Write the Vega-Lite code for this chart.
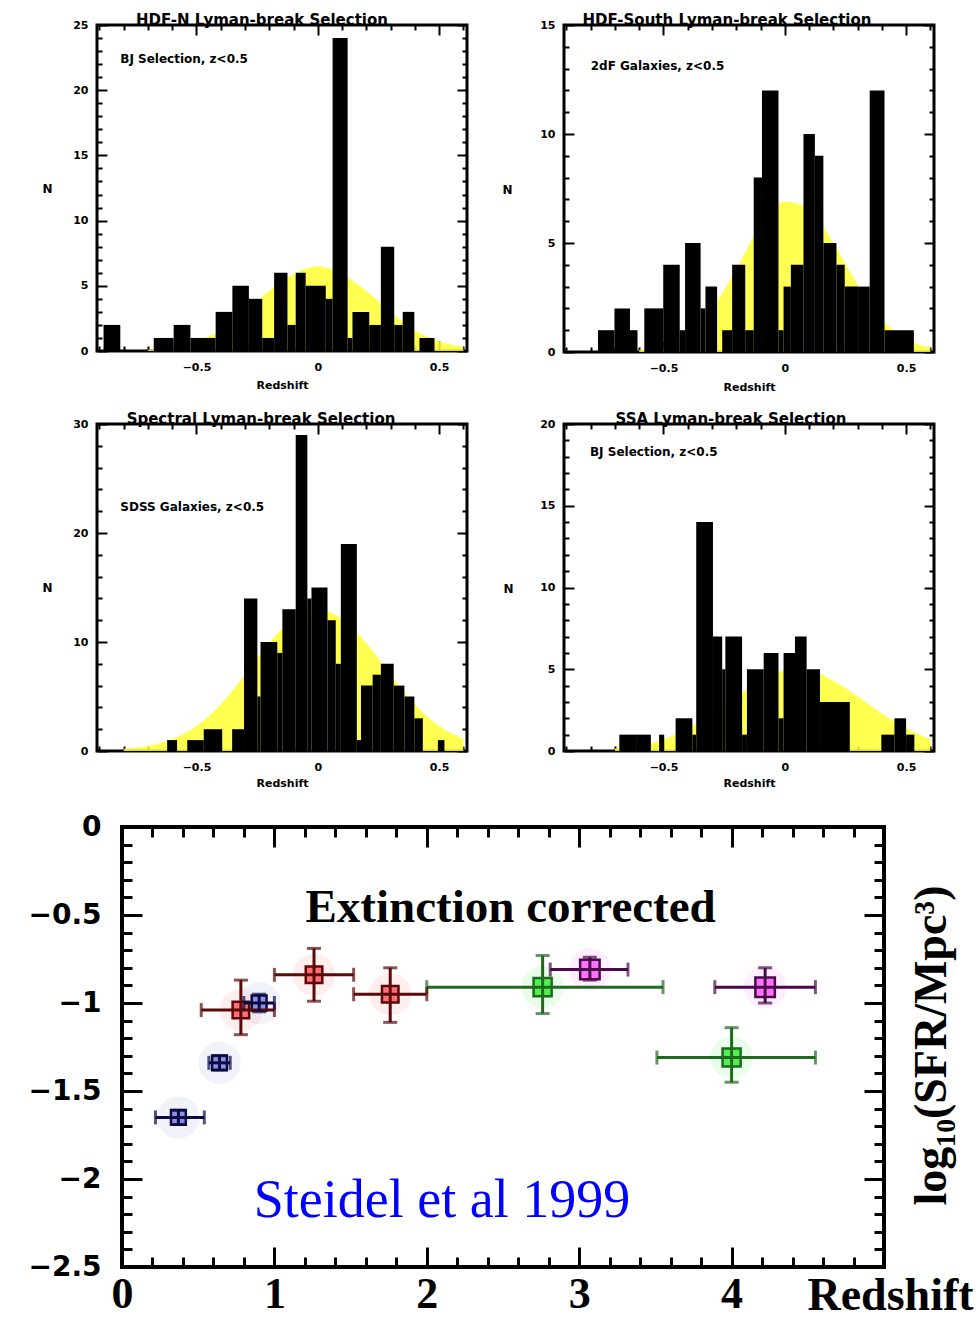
{
"$schema": "https://vega.github.io/schema/vega-lite/v6.json",
"background": "white",
"padding": {"left": 27, "top": 11, "right": 0, "bottom": 0},
"config": {"view": {"stroke": null}, "axis": {"labelFlush": false, "labelOverlap": false, "grid": false, "domain": false, "tickColor": "black", "labelColor": "black", "titleColor": "black"}},
"datasets": {
 "pts": [
  {"set":"red","z":0.78,"sfr":-1.04,"zlo":0.52,"zhi":1.0,"slo":-0.87,"shi":-1.18},
  {"set":"red","z":1.26,"sfr":-0.84,"zlo":1.0,"zhi":1.52,"slo":-0.69,"shi":-0.99},
  {"set":"red","z":1.76,"sfr":-0.95,"zlo":1.52,"zhi":2.0,"slo":-0.80,"shi":-1.11},
  {"set":"green","z":2.76,"sfr":-0.91,"zlo":2.0,"zhi":3.55,"slo":-0.73,"shi":-1.06},
  {"set":"green","z":4.0,"sfr":-1.31,"zlo":3.51,"zhi":4.55,"slo":-1.14,"shi":-1.45},
  {"set":"purple","z":3.07,"sfr":-0.81,"zlo":2.81,"zhi":3.32,"slo":-0.74,"shi":-0.87},
  {"set":"purple","z":4.22,"sfr":-0.91,"zlo":3.89,"zhi":4.55,"slo":-0.80,"shi":-1.0},
  {"set":"blue","z":0.37,"sfr":-1.65,"zlo":0.22,"zhi":0.54,"slo":-1.61,"shi":-1.69},
  {"set":"blue","z":0.64,"sfr":-1.34,"zlo":0.57,"zhi":0.71,"slo":-1.30,"shi":-1.38},
  {"set":"blue","z":0.9,"sfr":-1.0,"zlo":0.8,"zhi":1.0,"slo":-0.95,"shi":-1.05}
 ]
},
"spacing": 23,
"vconcat": [
  {"spacing": 16, "vconcat": [
  {"spacing": 30, "hconcat": [
   {"width": 370, "height": 326, "view": {"stroke": "black", "strokeWidth": 3},
    "title": {"text": "HDF-N Lyman-break Selection", "font": "DejaVu Sans", "fontSize": 15, "fontWeight": "bold", "color": "black", "offset": -16, "baseline": "middle", "dx": -20},
    "layer": [
     {"data": {"values": [{"x":-0.7,"n":0.1},{"x":-0.6,"n":0.3},{"x":-0.5,"n":0.75},{"x":-0.4,"n":1.6},{"x":-0.3,"n":3.0},{"x":-0.2,"n":4.6},{"x":-0.1,"n":5.9},{"x":0,"n":6.5},{"x":0.1,"n":5.9},{"x":0.2,"n":4.6},{"x":0.3,"n":3.0},{"x":0.4,"n":1.6},{"x":0.5,"n":0.75},{"x":0.6,"n":0.3}]},
      "mark": {"type": "area", "color": "#ffff33", "opacity": 0.85, "interpolate": "monotone"},
      "encoding": {
       "x": {"field": "x", "type": "quantitative", "scale": {"domain": [-0.91, 0.615], "nice": false, "zero": false},
             "axis": {"orient": "top", "values": [-0.9,-0.8,-0.7,-0.6,-0.5,-0.4,-0.3,-0.2,-0.1,0,0.1,0.2,0.3,0.4,0.5,0.6], "tickSize": {"condition": {"test": "abs(datum.value*2-round(datum.value*2))<0.001", "value": -10}, "value": -5}, "tickWidth": 2, "labels": false, "title": null}},
       "y": {"field": "n", "type": "quantitative", "scale": {"domain": [0, 25], "nice": false},
             "axis": {"orient": "right", "values": [0,1,2,3,4,5,6,7,8,9,10,11,12,13,14,15,16,17,18,19,20,21,22,23,24,25], "tickSize": {"condition": {"test": "datum.value%5==0", "value": -10}, "value": -5}, "tickWidth": 2, "labels": false, "title": null}}
      }},
     {"data": {"values": [{"x0":-0.883,"x1":-0.814,"n":2},{"x0":-0.676,"x1":-0.594,"n":1},{"x0":-0.594,"x1":-0.525,"n":2},{"x0":-0.525,"x1":-0.421,"n":1},{"x0":-0.421,"x1":-0.352,"n":3},{"x0":-0.352,"x1":-0.284,"n":5},{"x0":-0.284,"x1":-0.229,"n":4},{"x0":-0.229,"x1":-0.180,"n":1},{"x0":-0.180,"x1":-0.125,"n":6},{"x0":-0.125,"x1":-0.091,"n":2},{"x0":-0.091,"x1":-0.050,"n":6},{"x0":-0.050,"x1":0.033,"n":5},{"x0":0.033,"x1":0.061,"n":4},{"x0":0.061,"x1":0.123,"n":24},{"x0":0.123,"x1":0.143,"n":1},{"x0":0.143,"x1":0.212,"n":3},{"x0":0.212,"x1":0.260,"n":2},{"x0":0.260,"x1":0.315,"n":8},{"x0":0.315,"x1":0.350,"n":2},{"x0":0.350,"x1":0.398,"n":3},{"x0":0.419,"x1":0.481,"n":1}]},
      "mark": {"type": "rect", "color": "black"},
      "encoding": {
       "x": {"field": "x0", "type": "quantitative", "scale": {"domain": [-0.91, 0.615], "nice": false, "zero": false},
             "axis": {"orient": "bottom", "values": [-0.9,-0.8,-0.7,-0.6,-0.5,-0.4,-0.3,-0.2,-0.1,0,0.1,0.2,0.3,0.4,0.5,0.6], "tickSize": {"condition": {"test": "abs(datum.value*2-round(datum.value*2))<0.001", "value": -10}, "value": -5}, "tickWidth": 2, "labelExpr": "abs(datum.value*2-round(datum.value*2))<0.001 ? format(datum.value,'~g') : ''", "labelFont": "DejaVu Sans", "labelFontWeight": "bold", "labelFontSize": 11, "labelPadding": 20, "title": "Redshift", "titleFont": "DejaVu Sans", "titleFontWeight": "bold", "titleFontSize": 11, "titleY": 34, "titleBaseline": "middle"}},
       "x2": {"field": "x1"},
       "y": {"field": "n", "type": "quantitative", "scale": {"domain": [0, 25], "nice": false},
             "axis": {"orient": "left", "values": [0,1,2,3,4,5,6,7,8,9,10,11,12,13,14,15,16,17,18,19,20,21,22,23,24,25], "tickSize": {"condition": {"test": "datum.value%5==0", "value": -10}, "value": -5}, "tickWidth": 2, "labelExpr": "datum.value%5==0 ? datum.label : ''", "labelFont": "DejaVu Sans", "labelFontWeight": "bold", "labelFontSize": 11, "labelPadding": 19, "title": "N", "titleFont": "DejaVu Sans", "titleFontWeight": "bold", "titleFontSize": 12, "titleAngle": 0, "titleX": -50, "titleY": 163, "titleAlign": "center", "titleBaseline": "middle"}},
       "y2": {"datum": 0}
      }},
     {"data": {"values": [{"x": -0.814, "n": 22.4, "label": "BJ Selection, z<0.5"}]},
      "mark": {"type": "text", "align": "left", "baseline": "middle", "font": "DejaVu Sans", "fontWeight": "bold", "fontSize": 12, "color": "black"},
      "encoding": {"x": {"field": "x", "type": "quantitative", "scale": {"domain": [-0.91, 0.615], "nice": false, "zero": false}, "axis": null},
                   "y": {"field": "n", "type": "quantitative", "scale": {"domain": [0, 25], "nice": false}, "axis": null},
                   "text": {"field": "label"}}}
    ],
    "resolve": {"axis": {"x": "independent", "y": "independent"}}
   },
   {"width": 370, "height": 327, "view": {"stroke": "black", "strokeWidth": 3},
    "title": {"text": "HDF-South Lyman-break Selection", "font": "DejaVu Sans", "fontSize": 15, "fontWeight": "bold", "color": "black", "offset": -16, "baseline": "middle", "dx": -22},
    "layer": [
     {"data": {"values": [{"x":-0.6,"n":0.1},{"x":-0.5,"n":0.3},{"x":-0.4,"n":0.9},{"x":-0.3,"n":2.0},{"x":-0.2,"n":3.8},{"x":-0.1,"n":5.8},{"x":0,"n":6.9},{"x":0.1,"n":6.6},{"x":0.2,"n":5.0},{"x":0.3,"n":3.1},{"x":0.4,"n":1.5},{"x":0.5,"n":0.6},{"x":0.6,"n":0.2}]},
      "mark": {"type": "area", "color": "#ffff33", "opacity": 0.85, "interpolate": "monotone"},
      "encoding": {
       "x": {"field": "x", "type": "quantitative", "scale": {"domain": [-0.91, 0.615], "nice": false, "zero": false},
             "axis": {"orient": "top", "values": [-0.9,-0.8,-0.7,-0.6,-0.5,-0.4,-0.3,-0.2,-0.1,0,0.1,0.2,0.3,0.4,0.5,0.6], "tickSize": {"condition": {"test": "abs(datum.value*2-round(datum.value*2))<0.001", "value": -10}, "value": -5}, "tickWidth": 2, "labels": false, "title": null}},
       "y": {"field": "n", "type": "quantitative", "scale": {"domain": [0, 15], "nice": false},
             "axis": {"orient": "right", "values": [0,1,2,3,4,5,6,7,8,9,10,11,12,13,14,15], "tickSize": {"condition": {"test": "datum.value%5==0", "value": -10}, "value": -5}, "tickWidth": 2, "labels": false, "title": null}}
      }},
     {"data": {"values": [{"x0":-0.770,"x1":-0.702,"n":1},{"x0":-0.702,"x1":-0.638,"n":2},{"x0":-0.638,"x1":-0.607,"n":1},{"x0":-0.579,"x1":-0.501,"n":2},{"x0":-0.501,"x1":-0.433,"n":4},{"x0":-0.433,"x1":-0.411,"n":1},{"x0":-0.411,"x1":-0.347,"n":5},{"x0":-0.347,"x1":-0.327,"n":2},{"x0":-0.327,"x1":-0.279,"n":3},{"x0":-0.258,"x1":-0.217,"n":1},{"x0":-0.217,"x1":-0.163,"n":4},{"x0":-0.163,"x1":-0.128,"n":1},{"x0":-0.128,"x1":-0.094,"n":8},{"x0":-0.094,"x1":-0.026,"n":12},{"x0":-0.026,"x1":-0.005,"n":1},{"x0":-0.005,"x1":0.025,"n":3},{"x0":0.025,"x1":0.077,"n":4},{"x0":0.077,"x1":0.124,"n":10},{"x0":0.124,"x1":0.159,"n":9},{"x0":0.159,"x1":0.213,"n":5},{"x0":0.213,"x1":0.247,"n":4},{"x0":0.247,"x1":0.302,"n":3},{"x0":0.302,"x1":0.350,"n":3},{"x0":0.350,"x1":0.411,"n":12},{"x0":0.411,"x1":0.532,"n":1}]},
      "mark": {"type": "rect", "color": "black"},
      "encoding": {
       "x": {"field": "x0", "type": "quantitative", "scale": {"domain": [-0.91, 0.615], "nice": false, "zero": false},
             "axis": {"orient": "bottom", "values": [-0.9,-0.8,-0.7,-0.6,-0.5,-0.4,-0.3,-0.2,-0.1,0,0.1,0.2,0.3,0.4,0.5,0.6], "tickSize": {"condition": {"test": "abs(datum.value*2-round(datum.value*2))<0.001", "value": -10}, "value": -5}, "tickWidth": 2, "labelExpr": "abs(datum.value*2-round(datum.value*2))<0.001 ? format(datum.value,'~g') : ''", "labelFont": "DejaVu Sans", "labelFontWeight": "bold", "labelFontSize": 11, "labelPadding": 20, "title": "Redshift", "titleFont": "DejaVu Sans", "titleFontWeight": "bold", "titleFontSize": 11, "titleY": 35, "titleBaseline": "middle"}},
       "x2": {"field": "x1"},
       "y": {"field": "n", "type": "quantitative", "scale": {"domain": [0, 15], "nice": false},
             "axis": {"orient": "left", "values": [0,1,2,3,4,5,6,7,8,9,10,11,12,13,14,15], "tickSize": {"condition": {"test": "datum.value%5==0", "value": -10}, "value": -5}, "tickWidth": 2, "labelExpr": "datum.value%5==0 ? datum.label : ''", "labelFont": "DejaVu Sans", "labelFontWeight": "bold", "labelFontSize": 11, "labelPadding": 19, "title": "N", "titleFont": "DejaVu Sans", "titleFontWeight": "bold", "titleFontSize": 12, "titleAngle": 0, "titleX": -57, "titleY": 164, "titleAlign": "center", "titleBaseline": "middle"}},
       "y2": {"datum": 0}
      }},
     {"data": {"values": [{"x": -0.80, "n": 13.1, "label": "2dF Galaxies, z<0.5"}]},
      "mark": {"type": "text", "align": "left", "baseline": "middle", "font": "DejaVu Sans", "fontWeight": "bold", "fontSize": 12, "color": "black"},
      "encoding": {"x": {"field": "x", "type": "quantitative", "scale": {"domain": [-0.91, 0.615], "nice": false, "zero": false}, "axis": null},
                   "y": {"field": "n", "type": "quantitative", "scale": {"domain": [0, 15], "nice": false}, "axis": null},
                   "text": {"field": "label"}}}
    ],
    "resolve": {"axis": {"x": "independent", "y": "independent"}}
   }
  ]},
  {"spacing": 31, "hconcat": [
   {"width": 370, "height": 327, "view": {"stroke": "black", "strokeWidth": 3},
    "title": {"text": "Spectral Lyman-break Selection", "font": "DejaVu Sans", "fontSize": 15, "fontWeight": "bold", "color": "black", "offset": -16, "baseline": "middle", "dx": -21},
    "layer": [
     {"data": {"values": [{"x":-0.8,"n":0.2},{"x":-0.7,"n":0.45},{"x":-0.6,"n":1.1},{"x":-0.5,"n":2.3},{"x":-0.4,"n":4.3},{"x":-0.3,"n":7.0},{"x":-0.2,"n":9.9},{"x":-0.1,"n":12.1},{"x":0,"n":13},{"x":0.1,"n":12.1},{"x":0.2,"n":9.9},{"x":0.3,"n":7.0},{"x":0.4,"n":4.3},{"x":0.5,"n":2.3},{"x":0.6,"n":1.1}]},
      "mark": {"type": "area", "color": "#ffff33", "opacity": 0.85, "interpolate": "monotone"},
      "encoding": {
       "x": {"field": "x", "type": "quantitative", "scale": {"domain": [-0.91, 0.615], "nice": false, "zero": false},
             "axis": {"orient": "top", "values": [-0.9,-0.8,-0.7,-0.6,-0.5,-0.4,-0.3,-0.2,-0.1,0,0.1,0.2,0.3,0.4,0.5,0.6], "tickSize": {"condition": {"test": "abs(datum.value*2-round(datum.value*2))<0.001", "value": -10}, "value": -5}, "tickWidth": 2, "labels": false, "title": null}},
       "y": {"field": "n", "type": "quantitative", "scale": {"domain": [0, 30], "nice": false},
             "axis": {"orient": "right", "values": [0,2,4,6,8,10,12,14,16,18,20,22,24,26,28,30], "tickSize": {"condition": {"test": "datum.value%10==0", "value": -10}, "value": -5}, "tickWidth": 2, "labels": false, "title": null}}
      }},
     {"data": {"values": [{"x0":-0.621,"x1":-0.580,"n":1},{"x0":-0.538,"x1":-0.470,"n":1},{"x0":-0.470,"x1":-0.394,"n":2},{"x0":-0.353,"x1":-0.304,"n":2},{"x0":-0.304,"x1":-0.249,"n":14},{"x0":-0.249,"x1":-0.236,"n":5},{"x0":-0.236,"x1":-0.167,"n":10},{"x0":-0.167,"x1":-0.146,"n":9},{"x0":-0.146,"x1":-0.091,"n":13},{"x0":-0.091,"x1":-0.043,"n":29},{"x0":-0.043,"x1":-0.026,"n":14},{"x0":-0.026,"x1":0.040,"n":15},{"x0":0.040,"x1":0.074,"n":12},{"x0":0.074,"x1":0.095,"n":8},{"x0":0.095,"x1":0.161,"n":19},{"x0":0.161,"x1":0.178,"n":1},{"x0":0.178,"x1":0.226,"n":6},{"x0":0.226,"x1":0.260,"n":7},{"x0":0.260,"x1":0.313,"n":8},{"x0":0.313,"x1":0.357,"n":6},{"x0":0.357,"x1":0.398,"n":5},{"x0":0.398,"x1":0.433,"n":3},{"x0":0.495,"x1":0.522,"n":1}]},
      "mark": {"type": "rect", "color": "black"},
      "encoding": {
       "x": {"field": "x0", "type": "quantitative", "scale": {"domain": [-0.91, 0.615], "nice": false, "zero": false},
             "axis": {"orient": "bottom", "values": [-0.9,-0.8,-0.7,-0.6,-0.5,-0.4,-0.3,-0.2,-0.1,0,0.1,0.2,0.3,0.4,0.5,0.6], "tickSize": {"condition": {"test": "abs(datum.value*2-round(datum.value*2))<0.001", "value": -10}, "value": -5}, "tickWidth": 2, "labelExpr": "abs(datum.value*2-round(datum.value*2))<0.001 ? format(datum.value,'~g') : ''", "labelFont": "DejaVu Sans", "labelFontWeight": "bold", "labelFontSize": 11, "labelPadding": 20, "title": "Redshift", "titleFont": "DejaVu Sans", "titleFontWeight": "bold", "titleFontSize": 11, "titleY": 32, "titleBaseline": "middle"}},
       "x2": {"field": "x1"},
       "y": {"field": "n", "type": "quantitative", "scale": {"domain": [0, 30], "nice": false},
             "axis": {"orient": "left", "values": [0,2,4,6,8,10,12,14,16,18,20,22,24,26,28,30], "tickSize": {"condition": {"test": "datum.value%10==0", "value": -10}, "value": -5}, "tickWidth": 2, "labelExpr": "datum.value%10==0 ? datum.label : ''", "labelFont": "DejaVu Sans", "labelFontWeight": "bold", "labelFontSize": 11, "labelPadding": 19, "title": "N", "titleFont": "DejaVu Sans", "titleFontWeight": "bold", "titleFontSize": 12, "titleAngle": 0, "titleX": -50, "titleY": 163, "titleAlign": "center", "titleBaseline": "middle"}},
       "y2": {"datum": 0}
      }},
     {"data": {"values": [{"x": -0.814, "n": 22.4, "label": "SDSS Galaxies, z<0.5"}]},
      "mark": {"type": "text", "align": "left", "baseline": "middle", "font": "DejaVu Sans", "fontWeight": "bold", "fontSize": 12, "color": "black"},
      "encoding": {"x": {"field": "x", "type": "quantitative", "scale": {"domain": [-0.91, 0.615], "nice": false, "zero": false}, "axis": null},
                   "y": {"field": "n", "type": "quantitative", "scale": {"domain": [0, 30], "nice": false}, "axis": null},
                   "text": {"field": "label"}}}
    ],
    "resolve": {"axis": {"x": "independent", "y": "independent"}}
   },
   {"width": 370, "height": 327, "view": {"stroke": "black", "strokeWidth": 3},
    "title": {"text": "SSA Lyman-break Selection", "font": "DejaVu Sans", "fontSize": 15, "fontWeight": "bold", "color": "black", "offset": -16, "baseline": "middle", "dx": -18},
    "layer": [
     {"data": {"values": [{"x":-0.7,"n":0.15},{"x":-0.6,"n":0.35},{"x":-0.5,"n":0.7},{"x":-0.4,"n":1.4},{"x":-0.3,"n":2.3},{"x":-0.2,"n":3.35},{"x":-0.1,"n":4.3},{"x":0,"n":4.9},{"x":0.1,"n":4.9},{"x":0.2,"n":4.3},{"x":0.3,"n":3.35},{"x":0.4,"n":2.3},{"x":0.5,"n":1.4},{"x":0.6,"n":0.7}]},
      "mark": {"type": "area", "color": "#ffff33", "opacity": 0.85, "interpolate": "monotone"},
      "encoding": {
       "x": {"field": "x", "type": "quantitative", "scale": {"domain": [-0.91, 0.615], "nice": false, "zero": false},
             "axis": {"orient": "top", "values": [-0.9,-0.8,-0.7,-0.6,-0.5,-0.4,-0.3,-0.2,-0.1,0,0.1,0.2,0.3,0.4,0.5,0.6], "tickSize": {"condition": {"test": "abs(datum.value*2-round(datum.value*2))<0.001", "value": -10}, "value": -5}, "tickWidth": 2, "labels": false, "title": null}},
       "y": {"field": "n", "type": "quantitative", "scale": {"domain": [0, 20], "nice": false},
             "axis": {"orient": "right", "values": [0,1,2,3,4,5,6,7,8,9,10,11,12,13,14,15,16,17,18,19,20], "tickSize": {"condition": {"test": "datum.value%5==0", "value": -10}, "value": -5}, "tickWidth": 2, "labels": false, "title": null}}
      }},
     {"data": {"values": [{"x0":-0.682,"x1":-0.613,"n":1},{"x0":-0.613,"x1":-0.552,"n":1},{"x0":-0.518,"x1":-0.497,"n":1},{"x0":-0.450,"x1":-0.381,"n":2},{"x0":-0.381,"x1":-0.365,"n":1},{"x0":-0.365,"x1":-0.296,"n":14},{"x0":-0.296,"x1":-0.258,"n":7},{"x0":-0.258,"x1":-0.245,"n":5},{"x0":-0.245,"x1":-0.176,"n":7},{"x0":-0.176,"x1":-0.156,"n":1},{"x0":-0.156,"x1":-0.087,"n":5},{"x0":-0.087,"x1":-0.026,"n":6},{"x0":-0.026,"x1":-0.005,"n":2},{"x0":-0.005,"x1":0.042,"n":6},{"x0":0.042,"x1":0.090,"n":7},{"x0":0.090,"x1":0.145,"n":5},{"x0":0.145,"x1":0.268,"n":3},{"x0":0.398,"x1":0.452,"n":1},{"x0":0.452,"x1":0.500,"n":2},{"x0":0.500,"x1":0.534,"n":1}]},
      "mark": {"type": "rect", "color": "black"},
      "encoding": {
       "x": {"field": "x0", "type": "quantitative", "scale": {"domain": [-0.91, 0.615], "nice": false, "zero": false},
             "axis": {"orient": "bottom", "values": [-0.9,-0.8,-0.7,-0.6,-0.5,-0.4,-0.3,-0.2,-0.1,0,0.1,0.2,0.3,0.4,0.5,0.6], "tickSize": {"condition": {"test": "abs(datum.value*2-round(datum.value*2))<0.001", "value": -10}, "value": -5}, "tickWidth": 2, "labelExpr": "abs(datum.value*2-round(datum.value*2))<0.001 ? format(datum.value,'~g') : ''", "labelFont": "DejaVu Sans", "labelFontWeight": "bold", "labelFontSize": 11, "labelPadding": 20, "title": "Redshift", "titleFont": "DejaVu Sans", "titleFontWeight": "bold", "titleFontSize": 11, "titleY": 32, "titleBaseline": "middle"}},
       "x2": {"field": "x1"},
       "y": {"field": "n", "type": "quantitative", "scale": {"domain": [0, 20], "nice": false},
             "axis": {"orient": "left", "values": [0,1,2,3,4,5,6,7,8,9,10,11,12,13,14,15,16,17,18,19,20], "tickSize": {"condition": {"test": "datum.value%5==0", "value": -10}, "value": -5}, "tickWidth": 2, "labelExpr": "datum.value%5==0 ? datum.label : ''", "labelFont": "DejaVu Sans", "labelFontWeight": "bold", "labelFontSize": 11, "labelPadding": 19, "title": "N", "titleFont": "DejaVu Sans", "titleFontWeight": "bold", "titleFontSize": 12, "titleAngle": 0, "titleX": -56, "titleY": 164, "titleAlign": "center", "titleBaseline": "middle"}},
       "y2": {"datum": 0}
      }},
     {"data": {"values": [{"x": -0.803, "n": 18.3, "label": "BJ Selection, z<0.5"}]},
      "mark": {"type": "text", "align": "left", "baseline": "middle", "font": "DejaVu Sans", "fontWeight": "bold", "fontSize": 12, "color": "black"},
      "encoding": {"x": {"field": "x", "type": "quantitative", "scale": {"domain": [-0.91, 0.615], "nice": false, "zero": false}, "axis": null},
                   "y": {"field": "n", "type": "quantitative", "scale": {"domain": [0, 20], "nice": false}, "axis": null},
                   "text": {"field": "label"}}}
    ],
    "resolve": {"axis": {"x": "independent", "y": "independent"}}
   }
  ]}
 ]},
 {"width": 787, "height": 440,
   "layer": [
    {"data": {"name": "pts"}, "mark": {"type": "point", "shape": "circle", "filled": true, "opacity": 0.12, "size": 1800},
     "encoding": {"x": {"field": "z", "type": "quantitative", "scale": {"domain": [-0.164, 5], "nice": false, "zero": false}, "axis": null},
                  "y": {"field": "sfr", "type": "quantitative", "scale": {"domain": [-2.5, 0], "nice": false}, "axis": null},
                  "fill": {"field": "set", "type": "nominal", "scale": {"domain": ["blue","red","green","purple"], "range": ["#9090e0","#ff7070","#50f050","#ff70ff"]}, "legend": null}}},
    {"data": {"name": "pts"}, "mark": {"type": "point", "shape": "square", "filled": true, "opacity": 1, "strokeWidth": 2.5},
     "encoding": {"x": {"field": "z", "type": "quantitative", "scale": {"domain": [-0.164, 5], "nice": false, "zero": false},
                        "axis": {"orient": "bottom", "values": [0,0.2,0.4,0.6,0.8,1,1.2,1.4,1.6,1.8,2,2.2,2.4,2.6,2.8,3,3.2,3.4,3.6,3.8,4,4.2,4.4,4.6,4.8,5], "tickSize": {"condition": {"test": "abs(datum.value-round(datum.value))<0.001", "value": -20}, "value": -10}, "tickWidth": 3, "labelExpr": "(abs(datum.value-round(datum.value))<0.001 && datum.value<4.5) ? format(datum.value,'d') : ''", "labelFont": "Liberation Serif", "labelFontWeight": "bold", "labelFontSize": 44, "labelPadding": 25, "title": "Redshift", "titleFont": "Liberation Serif", "titleFontWeight": "bold", "titleFontSize": 46, "titleX": 793, "titleY": 42, "titleAlign": "center", "titleBaseline": "alphabetic"}},
                  "y": {"field": "sfr", "type": "quantitative", "scale": {"domain": [-2.5, 0], "nice": false},
                        "axis": {"orient": "left", "offset": -25, "values": [0,-0.1,-0.2,-0.3,-0.4,-0.5,-0.6,-0.7,-0.8,-0.9,-1,-1.1,-1.2,-1.3,-1.4,-1.5,-1.6,-1.7,-1.8,-1.9,-2,-2.1,-2.2,-2.3,-2.4,-2.5], "tickSize": {"condition": {"test": "abs(datum.value*2-round(datum.value*2))<0.001", "value": -20}, "value": -10}, "tickWidth": 3, "labelExpr": "abs(datum.value*2-round(datum.value*2))<0.001 ? format(datum.value,'~g') : ''", "labelFont": "DejaVu Sans", "labelFontWeight": "bold", "labelFontSize": 28, "labelPadding": 41, "title": null}},
                  "fill": {"field": "set", "type": "nominal", "scale": {"domain": ["blue","red","green","purple"], "range": ["#1c1c70","#f05050","#30e030","#a020a0"]}, "legend": null},
                  "stroke": {"field": "set", "type": "nominal", "scale": {"domain": ["blue","red","green","purple"], "range": ["#0a0a45","#5a0a0a","#1f6a1f","#4a0a4a"]}, "legend": null},
                  "size": {"field": "set", "type": "nominal", "scale": {"domain": ["blue","red","green","purple"], "range": [220, 380, 380, 240]}, "legend": null}}},
    {"data": {"name": "pts"}, "mark": {"type": "rule", "strokeWidth": 3},
     "encoding": {"x": {"field": "zlo", "type": "quantitative", "scale": {"domain": [-0.164, 5], "nice": false, "zero": false}, "axis": null},
                  "x2": {"field": "zhi"},
                  "y": {"field": "sfr", "type": "quantitative", "scale": {"domain": [-2.5, 0], "nice": false}, "axis": null},
                  "stroke": {"field": "set", "type": "nominal", "legend": null}}},
    {"data": {"name": "pts"}, "mark": {"type": "rule", "strokeWidth": 3},
     "encoding": {"x": {"field": "z", "type": "quantitative", "scale": {"domain": [-0.164, 5], "nice": false, "zero": false}, "axis": null},
                  "y": {"field": "slo", "type": "quantitative", "scale": {"domain": [-2.5, 0], "nice": false}, "axis": null},
                  "y2": {"field": "shi"},
                  "stroke": {"field": "set", "type": "nominal", "legend": null}}},
    {"data": {"name": "pts"}, "mark": {"type": "tick", "orient": "vertical", "size": 14, "thickness": 3},
     "encoding": {"x": {"field": "zlo", "type": "quantitative", "scale": {"domain": [-0.164, 5], "nice": false, "zero": false}, "axis": null},
                  "y": {"field": "sfr", "type": "quantitative", "scale": {"domain": [-2.5, 0], "nice": false}, "axis": null},
                  "color": {"field": "set", "type": "nominal", "scale": {"domain": ["blue","red","green","purple"], "range": ["#0a0a45","#5a0a0a","#1f6a1f","#4a0a4a"]}, "legend": null}}},
    {"data": {"name": "pts"}, "mark": {"type": "tick", "orient": "vertical", "size": 14, "thickness": 3},
     "encoding": {"x": {"field": "zhi", "type": "quantitative", "scale": {"domain": [-0.164, 5], "nice": false, "zero": false}, "axis": null},
                  "y": {"field": "sfr", "type": "quantitative", "scale": {"domain": [-2.5, 0], "nice": false}, "axis": null},
                  "color": {"field": "set", "type": "nominal", "legend": null}}},
    {"data": {"name": "pts"}, "mark": {"type": "tick", "orient": "horizontal", "size": 14, "thickness": 3},
     "encoding": {"x": {"field": "z", "type": "quantitative", "scale": {"domain": [-0.164, 5], "nice": false, "zero": false}, "axis": null},
                  "y": {"field": "slo", "type": "quantitative", "scale": {"domain": [-2.5, 0], "nice": false}, "axis": null},
                  "color": {"field": "set", "type": "nominal", "legend": null}}},
    {"data": {"name": "pts"}, "mark": {"type": "tick", "orient": "horizontal", "size": 14, "thickness": 3},
     "encoding": {"x": {"field": "z", "type": "quantitative", "scale": {"domain": [-0.164, 5], "nice": false, "zero": false}, "axis": null},
                  "y": {"field": "shi", "type": "quantitative", "scale": {"domain": [-2.5, 0], "nice": false}, "axis": null},
                  "color": {"field": "set", "type": "nominal", "legend": null}}},
    {"data": {"values": [{"z": 2.55, "sfr": -0.54, "label": "Extinction corrected"}]},
     "mark": {"type": "text", "font": "Liberation Serif", "fontWeight": "bold", "fontSize": 47, "align": "center", "baseline": "alphabetic", "color": "black"},
     "encoding": {"x": {"field": "z", "type": "quantitative", "scale": {"domain": [-0.164, 5], "nice": false, "zero": false},
                        "axis": {"orient": "top", "values": [0,0.2,0.4,0.6,0.8,1,1.2,1.4,1.6,1.8,2,2.2,2.4,2.6,2.8,3,3.2,3.4,3.6,3.8,4,4.2,4.4,4.6,4.8,5], "tickSize": {"condition": {"test": "abs(datum.value-round(datum.value))<0.001", "value": -20}, "value": -10}, "tickWidth": 3, "labels": false, "title": null}},
                  "y": {"field": "sfr", "type": "quantitative", "scale": {"domain": [-2.5, 0], "nice": false},
                        "axis": {"orient": "right", "values": [0,-0.1,-0.2,-0.3,-0.4,-0.5,-0.6,-0.7,-0.8,-0.9,-1,-1.1,-1.2,-1.3,-1.4,-1.5,-1.6,-1.7,-1.8,-1.9,-2,-2.1,-2.2,-2.3,-2.4,-2.5], "tickSize": {"condition": {"test": "abs(datum.value*2-round(datum.value*2))<0.001", "value": -20}, "value": -10}, "tickWidth": 3, "labels": false, "title": "log₁₀(SFR/Mpc³)", "titleFont": "Liberation Serif", "titleFontWeight": "bold", "titleFontSize": 46, "titleAngle": 270, "titleX": 47, "titleY": 218, "titleAlign": "center", "titleBaseline": "middle"}},
                  "text": {"field": "label"}}},
    {"data": {"values": [{"z": 2.1, "sfr": -2.216, "label": "Steidel et al 1999"}]},
     "mark": {"type": "text", "font": "Liberation Serif", "fontSize": 54, "align": "center", "baseline": "alphabetic", "color": "#0000ff"},
     "encoding": {"x": {"field": "z", "type": "quantitative", "scale": {"domain": [-0.164, 5], "nice": false, "zero": false}, "axis": null},
                  "y": {"field": "sfr", "type": "quantitative", "scale": {"domain": [-2.5, 0], "nice": false}, "axis": null},
                  "text": {"field": "label"}}},
    {"data": {"values": [{}]},
     "mark": {"type": "rect", "fillOpacity": 0, "stroke": "black", "strokeWidth": 4},
     "encoding": {"x": {"datum": 0, "type": "quantitative", "scale": {"domain": [-0.164, 5], "nice": false, "zero": false}, "axis": null},
                  "x2": {"datum": 5},
                  "y": {"datum": -2.5, "type": "quantitative", "scale": {"domain": [-2.5, 0], "nice": false}, "axis": null},
                  "y2": {"datum": 0}}}
   ],
   "resolve": {"axis": {"x": "independent", "y": "independent"}}
 }
]
}
